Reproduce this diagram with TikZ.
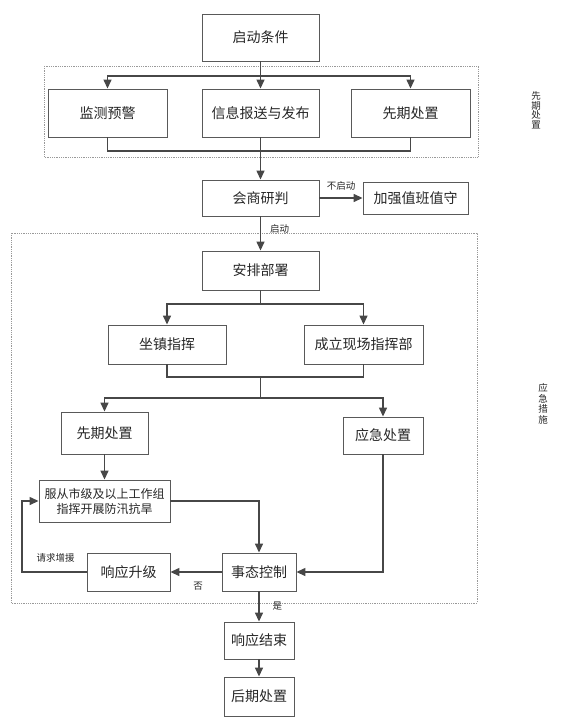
\documentclass[tikz,border=0pt]{standalone}
\usepackage{fontspec}
\setmainfont{Noto Sans CJK SC}
\usepackage{xcolor}
\usepackage{tikz}
\usetikzlibrary{arrows.meta}

\tikzset{
  box/.style={draw=black!65, line width=0.9pt, inner sep=1pt, align=center,
    text=black!85, font=\fontsize{14}{17}\selectfont},
  line/.style={draw=black!72, line width=1.4pt},
  arr/.style={line, -{Triangle[length=9pt, width=8pt]}},
  lbl/.style={inner sep=1pt, text=black!85, font=\fontsize{9.5}{10}\selectfont},
  grp/.style={draw=black!40, line width=0.8pt, densely dotted},
}

\begin{document}
\begin{tikzpicture}[x=1pt, y=-1pt]
  \def\cx{260.5}
  \useasboundingbox (0,0) rectangle (565,727);

  \draw[grp] (44,66) rectangle (478,157);
  \draw[grp] (11,233) rectangle (477,603);

  \node[box, minimum width=117, minimum height=47] (start) at (\cx,37.5) {启动条件};
  \node[box, minimum width=119, minimum height=48] (monitor) at (107.5,113) {监测预警};
  \node[box, minimum width=117, minimum height=48] (info) at (\cx,113) {信息报送与发布};
  \node[box, minimum width=119, minimum height=48] (early) at (410.5,113) {先期处置};
  \node[box, minimum width=117, minimum height=36] (judge) at (\cx,198) {会商研判};
  \node[box, minimum width=105, minimum height=32] (watch) at (415.5,198) {加强值班值守};
  \node[box, minimum width=117, minimum height=39] (deploy) at (\cx,270.5) {安排部署};
  \node[box, minimum width=118, minimum height=39] (seat) at (167,344.5) {坐镇指挥};
  \node[box, minimum width=119, minimum height=39] (site) at (363.5,344.5) {成立现场指挥部};
  \node[box, minimum width=87, minimum height=42] (early2) at (104.5,433) {先期处置};
  \node[box, minimum width=80, minimum height=37] (emerg) at (383,435.5) {应急处置};
  \node[box, minimum width=131, minimum height=42, font=\fontsize{12}{15}\selectfont]
    (obey) at (104.5,501) {服从市级及以上工作组\\指挥开展防汛抗旱};
  \node[box, minimum width=74, minimum height=38] (control) at (259,572) {事态控制};
  \node[box, minimum width=83, minimum height=38] (upgrade) at (128.5,572) {响应升级};
  \node[box, minimum width=70, minimum height=37] (finish) at (259,640.5) {响应结束};
  \node[box, minimum width=70, minimum height=39] (post) at (259,696.5) {后期处置};

  \node[lbl, align=center, font=\fontsize{9.5}{9.5}\selectfont] (sideA) at (536,110) {先\\期\\处\\置};
  \node[lbl, align=center, font=\fontsize{9.5}{10.5}\selectfont] (sideB) at (543,404) {应\\急\\措\\施};

  \coordinate (split1) at (\cx,76);
  \coordinate (join1) at (\cx,151);
  \coordinate (split2) at (\cx,304);
  \coordinate (join2) at (\cx,377);
  \coordinate (split3) at (\cx,398);
  \coordinate (loop) at (22,572);

  \draw[arr] (start) -- (info);
  \draw[arr] (split1) -| (monitor);
  \draw[arr] (split1) -| (early);
  \draw[line] (monitor) |- (join1) -| (early);
  \draw[arr] (info) -- (judge);
  \draw[arr] (judge) -- node[lbl, above=6pt] {不启动} (watch);
  \draw[arr] (judge) -- node[lbl, pos=0.37, right=8pt] {启动} (deploy);

  \draw[line] (deploy) -- (split2);
  \draw[arr] (split2) -| (seat);
  \draw[arr] (split2) -| (site);
  \draw[line] (seat) |- (join2) -| (site);
  \draw[line] (join2) -- (split3);
  \draw[arr] (split3) -| (early2);
  \draw[arr] (split3) -| (emerg);

  \draw[arr] (early2) -- (obey);
  \draw[arr] (obey.east) -| (control);
  \draw[arr] (emerg) |- (control);
  \draw[arr] (control) -- node[lbl, pos=0.46, below=8pt] {否} (upgrade);
  \draw[arr] (upgrade) -- node[lbl, pos=0.48, above=8pt] {请求增援} (loop) |- (obey);
  \draw[arr] (control) -- node[lbl, pos=0.48, right=12pt] {是} (finish);
  \draw[arr] (finish) -- (post);
\end{tikzpicture}
\end{document}
